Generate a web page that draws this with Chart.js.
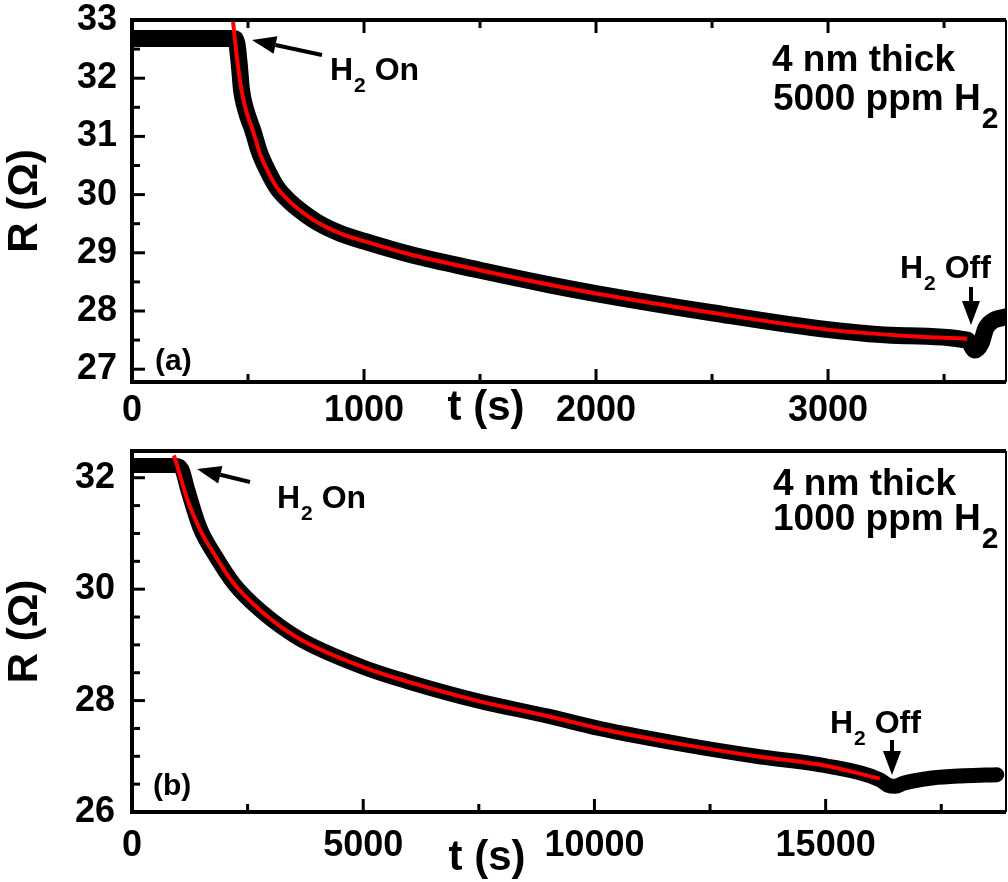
<!DOCTYPE html>
<html>
<head>
<meta charset="utf-8">
<script src="https://cdn.jsdelivr.net/npm/chart.js@4.4.0/dist/chart.umd.min.js"></script>
<style>
  body { margin: 0; background: #fff; }
  #wrap { position: relative; width: 1008px; height: 882px; }
  canvas { position: absolute; left: 0; }
</style>
</head>
<body>
<div id="wrap">
  <canvas id="panelA" width="1008" height="435" style="top:0"></canvas>
  <canvas id="panelB" width="1008" height="447" style="top:435px"></canvas>
</div>
<script>
// (a) 4 nm, 5000 ppm H2 -- measured resistance
const timeA = [0, 150, 300, 440, 452, 462, 472, 491, 521, 550, 582, 625, 680, 724, 800, 900, 1000, 1200, 1500, 1800, 2000, 2500, 3000, 3300, 3600, 3634, 3660, 3680, 3710, 3767]
const resA = [32.68, 32.68, 32.68, 32.68, 32.6, 32.25, 31.8, 31.45, 31.1, 30.72, 30.43, 30.12, 29.88, 29.73, 29.52, 29.33, 29.2, 28.97, 28.7, 28.45, 28.3, 27.97, 27.68, 27.58, 27.5, 27.33, 27.45, 27.7, 27.83, 27.9]
// (a) fit
const fitTimeA = [435, 445, 457, 472, 491, 521, 550, 582, 625, 680, 724, 800, 900, 1000, 1200, 1500, 1800, 2000, 2500, 3000, 3300, 3600]
const fitResA = [33.0, 32.6, 32.2, 31.8, 31.45, 31.1, 30.72, 30.43, 30.12, 29.88, 29.73, 29.52, 29.33, 29.2, 28.97, 28.7, 28.45, 28.3, 27.97, 27.68, 27.58, 27.52]
const xTicksA = [0, 1000, 2000, 3000]
const yTicksA = [27, 28, 29, 30, 31, 32, 33]

// (b) 4 nm, 1000 ppm H2 -- measured resistance
const timeB = [0, 500, 950, 1080, 1200, 1470, 1800, 2200, 2800, 3600, 5000, 6000, 7500, 9000, 10100, 12000, 13500, 15000, 16170, 16350, 16500, 16700, 17300, 18000, 18700]
const resB = [32.22, 32.22, 32.22, 32.15, 31.8, 31.1, 30.6, 30.1, 29.6, 29.12, 28.6, 28.33, 27.99, 27.72, 27.5, 27.2, 27.0, 26.83, 26.58, 26.48, 26.46, 26.52, 26.61, 26.65, 26.67]
// (b) fit
const fitTimeB = [908, 1000, 1200, 1470, 1800, 2200, 2800, 3600, 5000, 6000, 7500, 9000, 10100, 12000, 13500, 15000, 16170]
const fitResB = [32.4, 32.15, 31.6, 31.07, 30.6, 30.1, 29.6, 29.12, 28.6, 28.33, 27.99, 27.72, 27.5, 27.2, 27.0, 26.83, 26.6]
const xTicksB = [0, 5000, 10000, 15000]
const yTicksB = [26, 28, 30, 32]

const FONT = "'Liberation Sans', Arial, sans-serif"
Chart.defaults.font.family = FONT
Chart.defaults.font.weight = 'bold'
Chart.defaults.color = '#000'

function arrow(ctx, x1, y1, x2, y2) {
  const ang = Math.atan2(y2 - y1, x2 - x1)
  const hl = 24, hw = 9
  const bx = x2 - hl * Math.cos(ang), by = y2 - hl * Math.sin(ang)
  ctx.lineWidth = 4
  ctx.beginPath(); ctx.moveTo(x1, y1); ctx.lineTo(bx, by); ctx.stroke()
  ctx.beginPath()
  ctx.moveTo(x2, y2)
  ctx.lineTo(bx + hw * Math.sin(ang), by - hw * Math.cos(ang))
  ctx.lineTo(bx - hw * Math.sin(ang), by + hw * Math.cos(ang))
  ctx.closePath(); ctx.fill()
}

// prefix + H + subscript 2 + rest
function h2Text(ctx, x, y, size, subSize, subDrop, pre, rest) {
  ctx.font = `bold ${size}px ${FONT}`
  ctx.fillText(pre + 'H', x, y)
  let w = ctx.measureText(pre + 'H').width
  ctx.font = `bold ${subSize}px ${FONT}`
  ctx.fillText('2', x + w + 1, y + subDrop)
  w += ctx.measureText('2').width + 1
  if (rest) {
    ctx.font = `bold ${size}px ${FONT}`
    ctx.fillText(rest, x + w, y)
  }
}

const framePlugin = {
  id: 'frame',
  afterDraw(chart, args, o) {
    const { ctx, chartArea: a, scales: { x, y } } = chart
    ctx.save()
    ctx.strokeStyle = '#000'
    ctx.fillStyle = '#000'
    ctx.lineWidth = 3
    const tick = (px, py, dx, dy) => { ctx.beginPath(); ctx.moveTo(px, py); ctx.lineTo(px + dx, py + dy); ctx.stroke() }
    for (let v = 0; v <= x.max; v += o.xMinor) {
      const px = x.getPixelForValue(v)
      const len = o.xTicks.includes(v) ? 13 : 8
      tick(px, a.bottom, 0, -len)
      if (o.topTicks) tick(px, a.top, 0, len)
    }
    for (let v = o.yStart; v <= y.max; v += 0.5) {
      const py = y.getPixelForValue(v)
      const len = o.yTicks.includes(v) ? 13 : 8
      tick(a.left, py, len, 0)
    }
    ctx.lineWidth = 4
    ctx.beginPath()
    ctx.moveTo(a.right, a.top); ctx.lineTo(a.left, a.top); ctx.lineTo(a.left, a.bottom); ctx.lineTo(a.right, a.bottom)
    ctx.stroke()
    ctx.lineWidth = 2
    tick(a.right, a.top, 0, a.bottom - a.top)

    ctx.textBaseline = 'alphabetic'
    ctx.textAlign = 'left'
    o.draw(ctx)
    ctx.font = `bold 42px ${FONT}`
    ctx.textAlign = 'center'
    ctx.textBaseline = 'middle'
    ctx.fillText('t (s)', o.xTitle[0], o.xTitle[1])
    ctx.restore()
  }
}

function panel(id, d) {
  const pts = (ts, rs) => ts.map((t, i) => ({ x: t, y: rs[i] }))
  return new Chart(document.getElementById(id), {
    type: 'line',
    data: {
      datasets: [
        { data: pts(d.fitT, d.fitR), borderColor: '#ff0000', borderWidth: 4, pointRadius: 0, cubicInterpolationMode: 'monotone', order: 0 },
        { data: pts(d.t, d.r), borderColor: '#000', borderWidth: d.bandW, pointRadius: 0, cubicInterpolationMode: 'monotone', borderCapStyle: 'round', borderJoinStyle: 'round', order: 1 }
      ]
    },
    options: {
      responsive: false,
      animation: false,
      events: [],
      layout: { padding: { top: d.padTop, right: 2, left: 0, bottom: 0 } },
      plugins: {
        legend: { display: false },
        tooltip: { enabled: false },
        frame: d.frame
      },
      scales: {
        x: {
          type: 'linear', min: 0, max: d.xMax,
          afterBuildTicks: s => { s.ticks = d.xTicks.map(v => ({ value: v })) },
          afterFit: s => { s.height = d.xAxisH; s.paddingLeft = 0; s.paddingRight = 0 },
          grid: { display: false, drawTicks: false },
          border: { display: false },
          ticks: { font: { size: 36, weight: 'bold', lineHeight: 1 }, padding: d.xPad, maxRotation: 0, minRotation: 0, autoSkip: false, callback: v => String(v) }
        },
        y: {
          type: 'linear', min: d.yMin, max: d.yMax,
          afterBuildTicks: s => { s.ticks = d.yTicks.map(v => ({ value: v })) },
          afterFit: s => { s.width = 132; s.paddingTop = 0; s.paddingBottom = 0 },
          grid: { display: false, drawTicks: false },
          border: { display: false },
          ticks: { font: { size: 36, weight: 'bold', lineHeight: 1 }, padding: d.yPad, autoSkip: false, callback: v => String(v) },
          title: { display: true, text: 'R (\u03A9)', font: { size: 42, weight: 'bold' }, padding: 0 }
        }
      }
    },
    plugins: [framePlugin]
  })
}

panel('panelA', {
  t: timeA, r: resA, fitT: fitTimeA, fitR: fitResA,
  xTicks: xTicksA, yTicks: yTicksA,
  xMax: 3767, yMin: 26.78, yMax: 33,
  padTop: 20, xAxisH: 53, xPad: 11, yPad: 15, bandW: 17,
  frame: {
    xTicks: xTicksA, yTicks: yTicksA, xMinor: 500, yStart: 27, topTicks: true,
    xTitle: [486, 408],
    draw(ctx) {
      h2Text(ctx, 330, 80, 32, 21, 12, '', ' On')
      arrow(ctx, 322, 55, 252, 40)
      ctx.font = `bold 37px ${FONT}`
      ctx.fillText('4 nm thick', 772, 71)
      h2Text(ctx, 773, 110, 37, 30, 18, '5000 ppm ', '')
      ctx.font = `bold 30px ${FONT}`
      ctx.fillText('(a)', 155, 370)
      h2Text(ctx, 900, 278, 32, 21, 12, '', ' Off')
      arrow(ctx, 971, 287, 971, 325)
    }
  }
})

panel('panelB', {
  t: timeB, r: resB, fitT: fitTimeB, fitR: fitResB,
  xTicks: xTicksB, yTicks: yTicksB,
  xMax: 18900, yMin: 26, yMax: 32.48,
  padTop: 16, xAxisH: 70, xPad: 16, yPad: 17, bandW: 15,
  frame: {
    xTicks: xTicksB, yTicks: yTicksB, xMinor: 2500, yStart: 26, topTicks: false,
    xTitle: [487, 423],
    draw(ctx) {
      h2Text(ctx, 277, 73, 32, 21, 12, '', ' On')
      arrow(ctx, 250, 47, 197, 34)
      ctx.font = `bold 37px ${FONT}`
      ctx.fillText('4 nm thick', 773, 60)
      h2Text(ctx, 773, 95, 37, 30, 18, '1000 ppm ', '')
      ctx.font = `bold 30px ${FONT}`
      ctx.fillText('(b)', 153, 360)
      h2Text(ctx, 830, 298, 32, 21, 12, '', ' Off')
      arrow(ctx, 892, 305, 892, 340)
    }
  }
})
</script>
</body>
</html>
